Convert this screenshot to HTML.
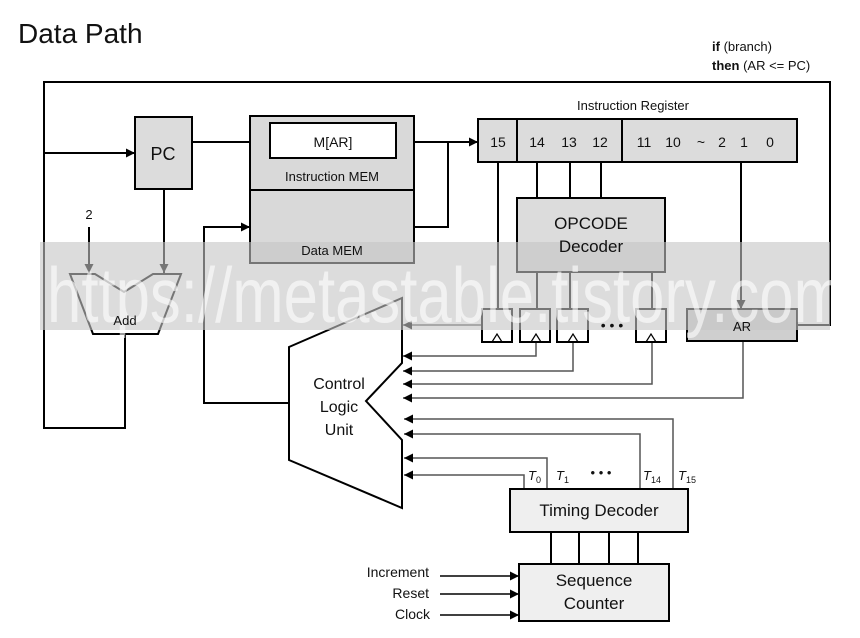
<!DOCTYPE html>
<html><head><meta charset="utf-8"><style>
html,body{margin:0;padding:0;background:#fff;}
svg{display:block;}
text{font-family:"Liberation Sans",sans-serif;fill:#111;}
</style></head><body>
<svg width="860" height="638" viewBox="0 0 860 638" xmlns="http://www.w3.org/2000/svg">
<defs>
<marker id="a" viewBox="0 0 10 10" refX="10" refY="5" markerWidth="9" markerHeight="9" markerUnits="userSpaceOnUse" orient="auto"><path d="M0,0 L10,5 L0,10 z" fill="#000"/></marker>
</defs>
<text x="18" y="43" font-size="28">Data Path</text>
<text x="712" y="51" font-size="13"><tspan font-weight="bold">if</tspan> (branch)</text>
<text x="712" y="70" font-size="13"><tspan font-weight="bold">then</tspan> (AR &lt;= PC)</text>

<g fill="none" stroke="#000" stroke-width="2">
<polyline points="125,334 125,428 44,428 44,82 830,82 830,325 797,325"/>
<line x1="44" y1="153" x2="135" y2="153" marker-end="url(#a)"/>
<line x1="192" y1="142" x2="270" y2="142" marker-end="url(#a)"/>
<line x1="164" y1="189" x2="164" y2="273" marker-end="url(#a)"/>
<line x1="89" y1="227" x2="89" y2="273" marker-end="url(#a)"/>
<polyline points="396,142 478,142" marker-end="url(#a)"/>
<polyline points="414,227 448,227 448,142"/>
<polyline points="289,403 204,403 204,227 250,227" marker-end="url(#a)"/>
<line x1="537" y1="162" x2="537" y2="198"/>
<line x1="570" y1="162" x2="570" y2="198"/>
<line x1="601" y1="162" x2="601" y2="198"/>
<line x1="498" y1="162" x2="498" y2="309"/>
<line x1="537" y1="272" x2="537" y2="309"/>
<line x1="570" y1="272" x2="570" y2="309"/>
<line x1="652" y1="272" x2="652" y2="309"/>
<line x1="741" y1="162" x2="741" y2="309" marker-end="url(#a)"/>
<line x1="551" y1="532" x2="551" y2="564"/>
<line x1="579" y1="532" x2="579" y2="564"/>
<line x1="609" y1="532" x2="609" y2="564"/>
<line x1="638" y1="532" x2="638" y2="564"/>
</g>
<g fill="none" stroke="#000" stroke-width="1.5">
<line x1="440" y1="576" x2="519" y2="576" marker-end="url(#a)"/>
<line x1="440" y1="594" x2="519" y2="594" marker-end="url(#a)"/>
<line x1="440" y1="615" x2="519" y2="615" marker-end="url(#a)"/>
</g>
<g fill="none" stroke="#555" stroke-width="1.5">
<line x1="482" y1="325" x2="403" y2="325" marker-end="url(#a)"/>
<polyline points="536,341 536,356 403,356" marker-end="url(#a)"/>
<polyline points="573,341 573,371 403,371" marker-end="url(#a)"/>
<polyline points="652,341 652,384 403,384" marker-end="url(#a)"/>
<polyline points="743,341 743,398 403,398" marker-end="url(#a)"/>
<polyline points="673,489 673,419 404,419" marker-end="url(#a)"/>
<polyline points="640,489 640,434 404,434" marker-end="url(#a)"/>
<polyline points="547,489 547,458 404,458" marker-end="url(#a)"/>
<polyline points="524,489 524,475 404,475" marker-end="url(#a)"/>
</g>

<rect x="135" y="117" width="57" height="72" fill="#dcdcdc" stroke="#000" stroke-width="2"/>
<text x="163" y="160" font-size="18" text-anchor="middle">PC</text>
<text x="89" y="219" font-size="13" text-anchor="middle">2</text>
<rect x="250" y="116" width="164" height="147" fill="#d9d9d9" stroke="#000" stroke-width="2"/>
<line x1="250" y1="190" x2="414" y2="190" stroke="#000" stroke-width="2"/>
<rect x="270" y="123" width="126" height="35" fill="#fff" stroke="#000" stroke-width="2"/>
<text x="333" y="147" font-size="14" text-anchor="middle">M[AR]</text>
<text x="332" y="181" font-size="13" text-anchor="middle">Instruction MEM</text>
<polygon points="70,274 95,274 124,292 153,274 181,274 158,334 93,334" fill="#fff" stroke="#000" stroke-width="2"/>
<text x="633" y="110" font-size="13" text-anchor="middle">Instruction Register</text>
<rect x="478" y="119" width="319" height="43" fill="#dcdcdc" stroke="#000" stroke-width="2"/>
<line x1="517" y1="119" x2="517" y2="162" stroke="#000" stroke-width="2"/>
<line x1="622" y1="119" x2="622" y2="162" stroke="#000" stroke-width="2"/>
<g font-size="14" text-anchor="middle"><text x="498" y="147">15</text><text x="537" y="147">14</text><text x="569" y="147">13</text><text x="600" y="147">12</text>
<text x="644" y="147">11</text><text x="673" y="147">10</text><text x="701" y="147">~</text><text x="722" y="147">2</text><text x="744" y="147">1</text><text x="770" y="147">0</text></g>
<rect x="517" y="198" width="148" height="74" fill="#dcdcdc" stroke="#000" stroke-width="2"/>
<text x="591" y="229" font-size="17" text-anchor="middle">OPCODE</text>
<g fill="#fff" stroke="#000" stroke-width="2">
<rect x="482" y="309" width="30" height="33"/><rect x="520" y="309" width="30" height="33"/><rect x="557" y="309" width="31" height="33"/><rect x="636" y="309" width="30" height="33"/>
</g>
<g fill="none" stroke="#000" stroke-width="1.2">
<polyline points="492,342 497,334 502,342"/><polyline points="531,342 536,334 541,342"/><polyline points="568,342 573,334 578,342"/><polyline points="646,342 651,334 656,342"/>
</g>
<rect x="687" y="309" width="110" height="32" fill="#cfcfcf" stroke="#000" stroke-width="2"/>
<polygon points="289,347 402,298 402,363 366,401 402,440 402,508 289,460" fill="#fff" stroke="#000" stroke-width="2"/>
<g font-size="16" text-anchor="middle"><text x="339" y="389">Control</text><text x="339" y="412">Logic</text><text x="339" y="435">Unit</text></g>
<g font-family="Liberation Serif" font-style="italic" font-size="13">
<text x="528" y="480">T<tspan font-size="9" font-style="normal" dy="3">0</tspan></text>
<text x="556" y="480">T<tspan font-size="9" font-style="normal" dy="3">1</tspan></text>
<text x="643" y="480">T<tspan font-size="9" font-style="normal" dy="3">14</tspan></text>
<text x="678" y="480">T<tspan font-size="9" font-style="normal" dy="3">15</tspan></text>
</g>
<text x="601" y="477" font-size="13" text-anchor="middle">• • •</text>
<rect x="510" y="489" width="178" height="43" fill="#efefef" stroke="#000" stroke-width="2"/>
<text x="599" y="516" font-size="17" text-anchor="middle">Timing Decoder</text>
<rect x="519" y="564" width="150" height="57" fill="#efefef" stroke="#000" stroke-width="2"/>
<text x="594" y="586" font-size="17" text-anchor="middle">Sequence</text>
<text x="594" y="609" font-size="17" text-anchor="middle">Counter</text>
<g font-size="14" text-anchor="end"><text x="429" y="577">Increment</text><text x="429" y="598">Reset</text><text x="430" y="619">Clock</text></g>
<!-- watermark -->
<rect x="40" y="242" width="790" height="88" fill="#c4c4c4" opacity="0.6"/>
<text x="47" y="322" font-size="78" textLength="798" lengthAdjust="spacingAndGlyphs" style="fill:#fff" opacity="0.6">https://metastable.tistory.com</text>
<!-- labels over band -->
<text x="332" y="255" font-size="13" text-anchor="middle">Data MEM</text>
<text x="591" y="252" font-size="17" text-anchor="middle">Decoder</text>
<text x="125" y="325" font-size="13" text-anchor="middle">Add</text>
<text x="742" y="331" font-size="13" text-anchor="middle">AR</text>
<text x="612" y="330" font-size="14" text-anchor="middle">• • •</text>
</svg>
</body></html>
